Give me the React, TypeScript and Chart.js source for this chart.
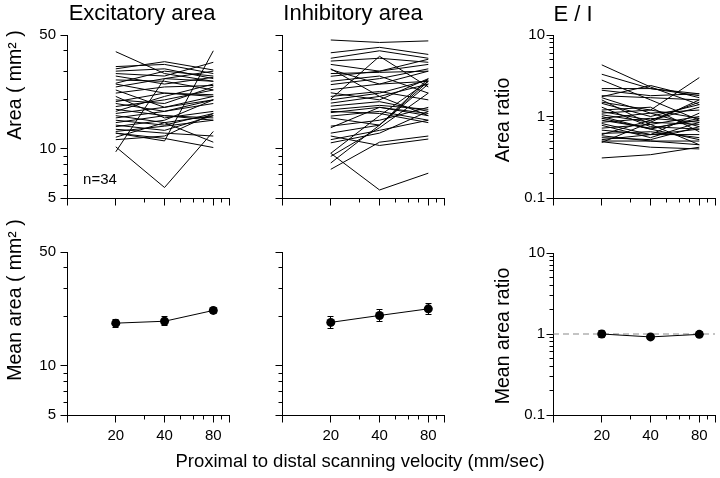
import React, { useEffect, useRef } from "react";
import { Chart, registerables } from "chart.js";
Chart.register(...registerables);

// ---------- data ----------
const velocities = [20, 40, 80];
const xTicks = [10, 20, 30, 40, 50, 60, 70, 80, 90, 100];
const xLabeled = [20, 40, 80];
const xMajor = [10, 20, 40, 80, 100];
const areaTicks = [5, 6, 7, 8, 9, 10, 20, 30, 40, 50];
const areaLabeled = [5, 10, 50];
const ratioTicks = [0.1, 0.2, 0.3, 0.4, 0.5, 0.6, 0.7, 0.8, 0.9, 1, 2, 3, 4, 5, 6, 7, 8, 9, 10];
const ratioLabeled = [0.1, 1, 10];
const unityX = [10, 100];
const unityLine = [1, 1];

// per-cell values at 20, 40, 80 mm/sec
const excitatoryCells: number[][] = [
  [39.5, 29.0, 26.0], [10.3, 5.8, 12.8], [9.6, 27.0, 30.0], [12.5, 11.2, 40.0],
  [32.0, 33.0, 29.0], [31.0, 34.3, 30.5], [30.0, 31.0, 27.0], [29.0, 28.0, 34.0],
  [28.0, 25.0, 27.5], [25.3, 30.0, 28.0], [25.0, 22.0, 21.0], [24.0, 27.0, 26.0],
  [20.0, 19.0, 24.0], [19.5, 22.0, 21.5], [19.0, 17.0, 20.0], [18.2, 20.0, 23.0],
  [17.5, 16.0, 15.0], [16.5, 18.0, 21.0], [16.0, 14.5, 16.0], [15.5, 17.0, 19.0],
  [15.0, 14.0, 16.5], [14.5, 16.0, 15.5], [14.0, 13.0, 16.0], [13.7, 15.0, 20.0],
  [13.2, 12.5, 12.0], [12.8, 13.8, 15.0], [12.5, 11.6, 10.2], [11.8, 14.5, 11.0],
  [11.4, 12.0, 16.5], [22.0, 24.0, 24.5], [26.5, 26.0, 23.0], [21.0, 15.5, 17.0],
  [17.0, 21.0, 25.0], [23.0, 18.0, 20.0],
];
const inhibitoryCells: number[][] = [
  [46.6, 45.0, 46.0], [38.9, 42.0, 38.0], [36.0, 40.0, 36.0], [34.6, 36.0, 34.0],
  [33.0, 30.0, 35.5], [30.7, 25.0, 30.0], [27.9, 30.0, 33.0], [24.8, 27.0, 31.0],
  [23.1, 25.0, 26.0], [22.1, 20.0, 27.0], [20.2, 37.0, 24.0], [31.0, 21.0, 16.0],
  [19.1, 21.0, 25.0], [18.3, 19.5, 17.0], [17.4, 18.5, 17.5], [16.7, 18.0, 16.0],
  [15.9, 17.0, 15.0], [15.5, 14.0, 25.0], [13.8, 15.0, 18.0], [13.5, 18.0, 16.5],
  [12.5, 14.0, 26.0], [11.4, 13.0, 15.0], [10.9, 12.5, 17.0], [9.4, 16.0, 26.0],
  [9.0, 13.5, 22.0], [8.2, 14.0, 27.0], [7.5, 11.0, 12.0], [9.4, 5.6, 7.1],
  [20.0, 22.0, 26.5], [21.0, 22.5, 20.0], [26.0, 28.0, 22.0], [29.0, 29.5, 30.0],
  [17.0, 16.5, 14.5], [12.0, 10.5, 11.5],
];
const ratioCells: number[][] = [
  [4.3, 2.3, 1.4], [3.3, 2.2, 1.9], [2.8, 1.6, 0.9], [2.2, 2.2, 1.8],
  [2.1, 1.8, 1.9], [1.8, 1.7, 1.6], [1.75, 2.4, 1.7], [1.6, 0.8, 0.45],
  [1.5, 1.2, 3.0], [1.45, 1.0, 1.4], [1.3, 0.75, 0.7], [1.15, 0.9, 1.5],
  [1.1, 1.2, 0.95], [1.05, 0.85, 0.8], [1.0, 0.7, 0.95], [0.95, 1.1, 1.2],
  [0.9, 0.72, 0.9], [0.85, 0.95, 0.85], [0.82, 0.6, 0.7], [0.78, 0.55, 0.85],
  [0.72, 0.8, 1.0], [0.68, 0.6, 0.6], [0.62, 0.65, 0.55], [0.58, 0.5, 0.5],
  [0.55, 0.52, 0.75], [0.52, 0.6, 1.1], [0.5, 0.5, 0.45], [0.49, 0.42, 0.4],
  [0.48, 0.85, 1.6], [0.31, 0.34, 0.42], [1.2, 1.3, 0.65], [0.6, 0.9, 1.3],
  [0.95, 0.7, 0.52], [1.7, 1.1, 0.75],
];

const meanExcitatory = [18.3, 18.8, 21.9];
const semExcitatory = [1.0, 1.2, 0.9];
const meanInhibitory = [18.5, 20.4, 22.4];
const semInhibitory = [1.6, 1.7, 1.6];
const meanRatio = [1.0, 0.92, 0.99];
const semRatio = [0.09, 0.06, 0.07];

// ---------- helpers ----------
const FONT = '"Liberation Sans", Arial, Helvetica, sans-serif';

const alignPx = (p: number) => Math.round(p - 0.5) + 0.5;

const tickMarks = {
  id: "tickMarks",
  afterDraw(chart: any, _args: any, opts: any) {
    const { ctx, chartArea } = chart;
    const xs = chart.scales.x;
    const ys = chart.scales.y;
    ctx.save();
    ctx.strokeStyle = "#000";
    ctx.lineWidth = 1;
    ctx.beginPath();
    const bottom = alignPx(chartArea.bottom);
    const left = alignPx(chartArea.left);
    xs.ticks.forEach((t: any) => {
      const px = alignPx(xs.getPixelForValue(t.value));
      const len = opts.xMajor.includes(t.value) ? 7 : 4;
      ctx.moveTo(px, bottom);
      ctx.lineTo(px, bottom + len);
    });
    ys.ticks.forEach((t: any) => {
      const py = alignPx(ys.getPixelForValue(t.value));
      const len = opts.yMajor.includes(t.value) ? 7 : 4;
      ctx.moveTo(left - len, py);
      ctx.lineTo(left, py);
    });
    ctx.stroke();
    ctx.restore();
  },
};

const errorBars = {
  id: "errorBars",
  afterDatasetsDraw(chart: any) {
    const { ctx } = chart;
    const ys = chart.scales.y;
    chart.data.datasets.forEach((ds: any, i: number) => {
      if (!ds.errors) return;
      const meta = chart.getDatasetMeta(i);
      ctx.save();
      ctx.strokeStyle = "#000";
      ctx.lineWidth = 1;
      meta.data.forEach((pt: any, j: number) => {
        const v = ds.data[j].y;
        const e = ds.errors[j];
        const yT = ys.getPixelForValue(v + e);
        const yB = ys.getPixelForValue(v - e);
        const x = alignPx(pt.x);
        ctx.beginPath();
        ctx.moveTo(x, yT);
        ctx.lineTo(x, yB);
        ctx.moveTo(x - 3, alignPx(yT));
        ctx.lineTo(x + 3, alignPx(yT));
        ctx.moveTo(x - 3, alignPx(yB));
        ctx.lineTo(x + 3, alignPx(yB));
        ctx.stroke();
      });
      ctx.restore();
    });
  },
};

const cellLines = (cells: number[][]) =>
  cells.map((c) => ({
    data: velocities.map((v, i) => ({ x: v, y: c[i] })),
    borderColor: "#000",
    borderWidth: 1,
    pointRadius: 0,
    fill: false,
    tension: 0,
  }));

const meanSeries = (means: number[], sems: number[]) => ({
  data: velocities.map((v, i) => ({ x: v, y: means[i] })),
  errors: sems,
  borderColor: "#000",
  borderWidth: 1,
  pointRadius: 4.5,
  pointBackgroundColor: "#000",
  pointBorderColor: "#000",
  pointBorderWidth: 0,
  fill: false,
  tension: 0,
  order: 0,
});

const unitySeries = () => ({
  data: unityX.map((x, i) => ({ x, y: unityLine[i] })),
  borderColor: "#8a8a8a",
  borderDash: [6, 4],
  borderWidth: 1.2,
  pointRadius: 0,
  fill: false,
  order: 1,
});

type Spec = {
  left: number; top: number; w: number; h: number;
  yW: number; padTop: number; padRight: number; xH: number;
  yMin: number; yMax: number; yTicks: number[]; yLabeled: number[];
  showY: boolean; showX: boolean; yPad: number;
  datasets: any[];
};

function Panel({ s }: { s: Spec }) {
  const ref = useRef<HTMLCanvasElement | null>(null);
  useEffect(() => {
    if (!ref.current) return;
    const chart = new Chart(ref.current, {
      type: "line",
      data: { datasets: s.datasets },
      options: {
        responsive: false,
        animation: false,
        devicePixelRatio: 1,
        layout: { padding: { top: s.padTop, right: s.padRight, left: 0, bottom: 0 } },
        plugins: {
          legend: { display: false },
          tooltip: { enabled: false },
          tickMarks: { xMajor, yMajor: s.yLabeled },
        } as any,
        scales: {
          x: {
            type: "logarithmic",
            min: 10,
            max: 100,
            afterBuildTicks: (sc: any) => {
              sc.ticks = xTicks.map((v) => ({ value: v }));
            },
            afterFit: (sc: any) => {
              sc.height = s.xH;
            },
            ticks: {
              autoSkip: false,
              maxRotation: 0,
              minRotation: 0,
              padding: 5,
              color: "#000",
              font: { family: FONT, size: 15 },
              callback: (v: any) => (s.showX && xLabeled.includes(Number(v)) ? String(v) : ""),
            },
            grid: { display: true, drawOnChartArea: false, drawTicks: true, tickLength: 7, color: "rgba(0,0,0,0)" },
            border: { display: true, color: "#000", width: 1 },
          },
          y: {
            type: "logarithmic",
            min: s.yMin,
            max: s.yMax,
            afterBuildTicks: (sc: any) => {
              sc.ticks = s.yTicks.map((v) => ({ value: v }));
            },
            afterFit: (sc: any) => {
              sc.width = s.yW;
            },
            ticks: {
              autoSkip: false,
              padding: s.yPad,
              color: "#000",
              font: { family: FONT, size: 15 },
              callback: (v: any) => (s.showY && s.yLabeled.includes(Number(v)) ? String(v) : ""),
            },
            grid: { display: true, drawOnChartArea: false, drawTicks: true, tickLength: 7, color: "rgba(0,0,0,0)" },
            border: { display: true, color: "#000", width: 1 },
          },
        },
      } as any,
      plugins: [tickMarks, errorBars],
    });
    return () => chart.destroy();
  }, []);
  return (
    <canvas
      ref={ref}
      width={s.w}
      height={s.h}
      style={{ position: "absolute", left: s.left, top: s.top, width: s.w, height: s.h }}
    />
  );
}

function Label({ text, x, y, size, rotate }: { text: string; x: number; y: number; size: number; rotate?: boolean }) {
  return (
    <div
      style={{
        position: "absolute",
        left: x,
        top: y,
        transform: `translate(-50%, -50%)${rotate ? " rotate(-90deg)" : ""}`,
        fontFamily: FONT,
        fontSize: size,
        lineHeight: 1,
        whiteSpace: "nowrap",
        color: "#000",
      }}
    >
      {text}
    </div>
  );
}

export default function App() {
  const areaTop = { yMin: 5, yMax: 50, yTicks: areaTicks, yLabeled: areaLabeled };
  const ratioAx = { yMin: 0.1, yMax: 10, yTicks: ratioTicks, yLabeled: ratioLabeled };
  const specs: Spec[] = [
    { left: 0, top: 0, w: 240, h: 222, yW: 67, padTop: 35, padRight: 11, xH: 24, ...areaTop, showY: true, showX: false, yPad: 4, datasets: cellLines(excitatoryCells) },
    { left: 250, top: 0, w: 205, h: 222, yW: 32, padTop: 35, padRight: 11, xH: 24, ...areaTop, showY: false, showX: false, yPad: 4, datasets: cellLines(inhibitoryCells) },
    { left: 480, top: 0, w: 240, h: 222, yW: 73, padTop: 35, padRight: 4, xH: 24, ...ratioAx, showY: true, showX: false, yPad: 1, datasets: cellLines(ratioCells) },
    { left: 0, top: 220, w: 240, h: 232, yW: 67, padTop: 32, padRight: 11, xH: 37, ...areaTop, showY: true, showX: true, yPad: 4, datasets: [meanSeries(meanExcitatory, semExcitatory)] },
    { left: 250, top: 220, w: 205, h: 232, yW: 32, padTop: 32, padRight: 11, xH: 37, ...areaTop, showY: false, showX: true, yPad: 4, datasets: [meanSeries(meanInhibitory, semInhibitory)] },
    { left: 480, top: 220, w: 240, h: 232, yW: 73, padTop: 33, padRight: 4, xH: 37, ...ratioAx, showY: true, showX: true, yPad: 1, datasets: [unitySeries(), meanSeries(meanRatio, semRatio)] },
  ];
  return (
    <div style={{ position: "absolute", left: 0, top: 0, width: 720, height: 478, background: "#fff", overflow: "hidden" }}>
      {specs.map((s, i) => (
        <Panel key={i} s={s} />
      ))}
      <Label text="Excitatory area" x={142} y={13} size={22} />
      <Label text="Inhibitory area" x={353} y={13} size={22} />
      <Label text="E / I" x={573} y={14} size={22} />
      <Label text="Area ( mm² )" x={15} y={85} size={19.5} rotate />
      <Label text="Mean area ( mm² )" x={15} y={300} size={19.5} rotate />
      <Label text="Area ratio" x={503} y={120} size={19.5} rotate />
      <Label text="Mean area ratio" x={503} y={336} size={19.5} rotate />
      <Label text="n=34" x={100} y={178} size={15} />
      <Label text="Proximal to distal scanning velocity (mm/sec)" x={360} y={461} size={18.5} />
    </div>
  );
}
